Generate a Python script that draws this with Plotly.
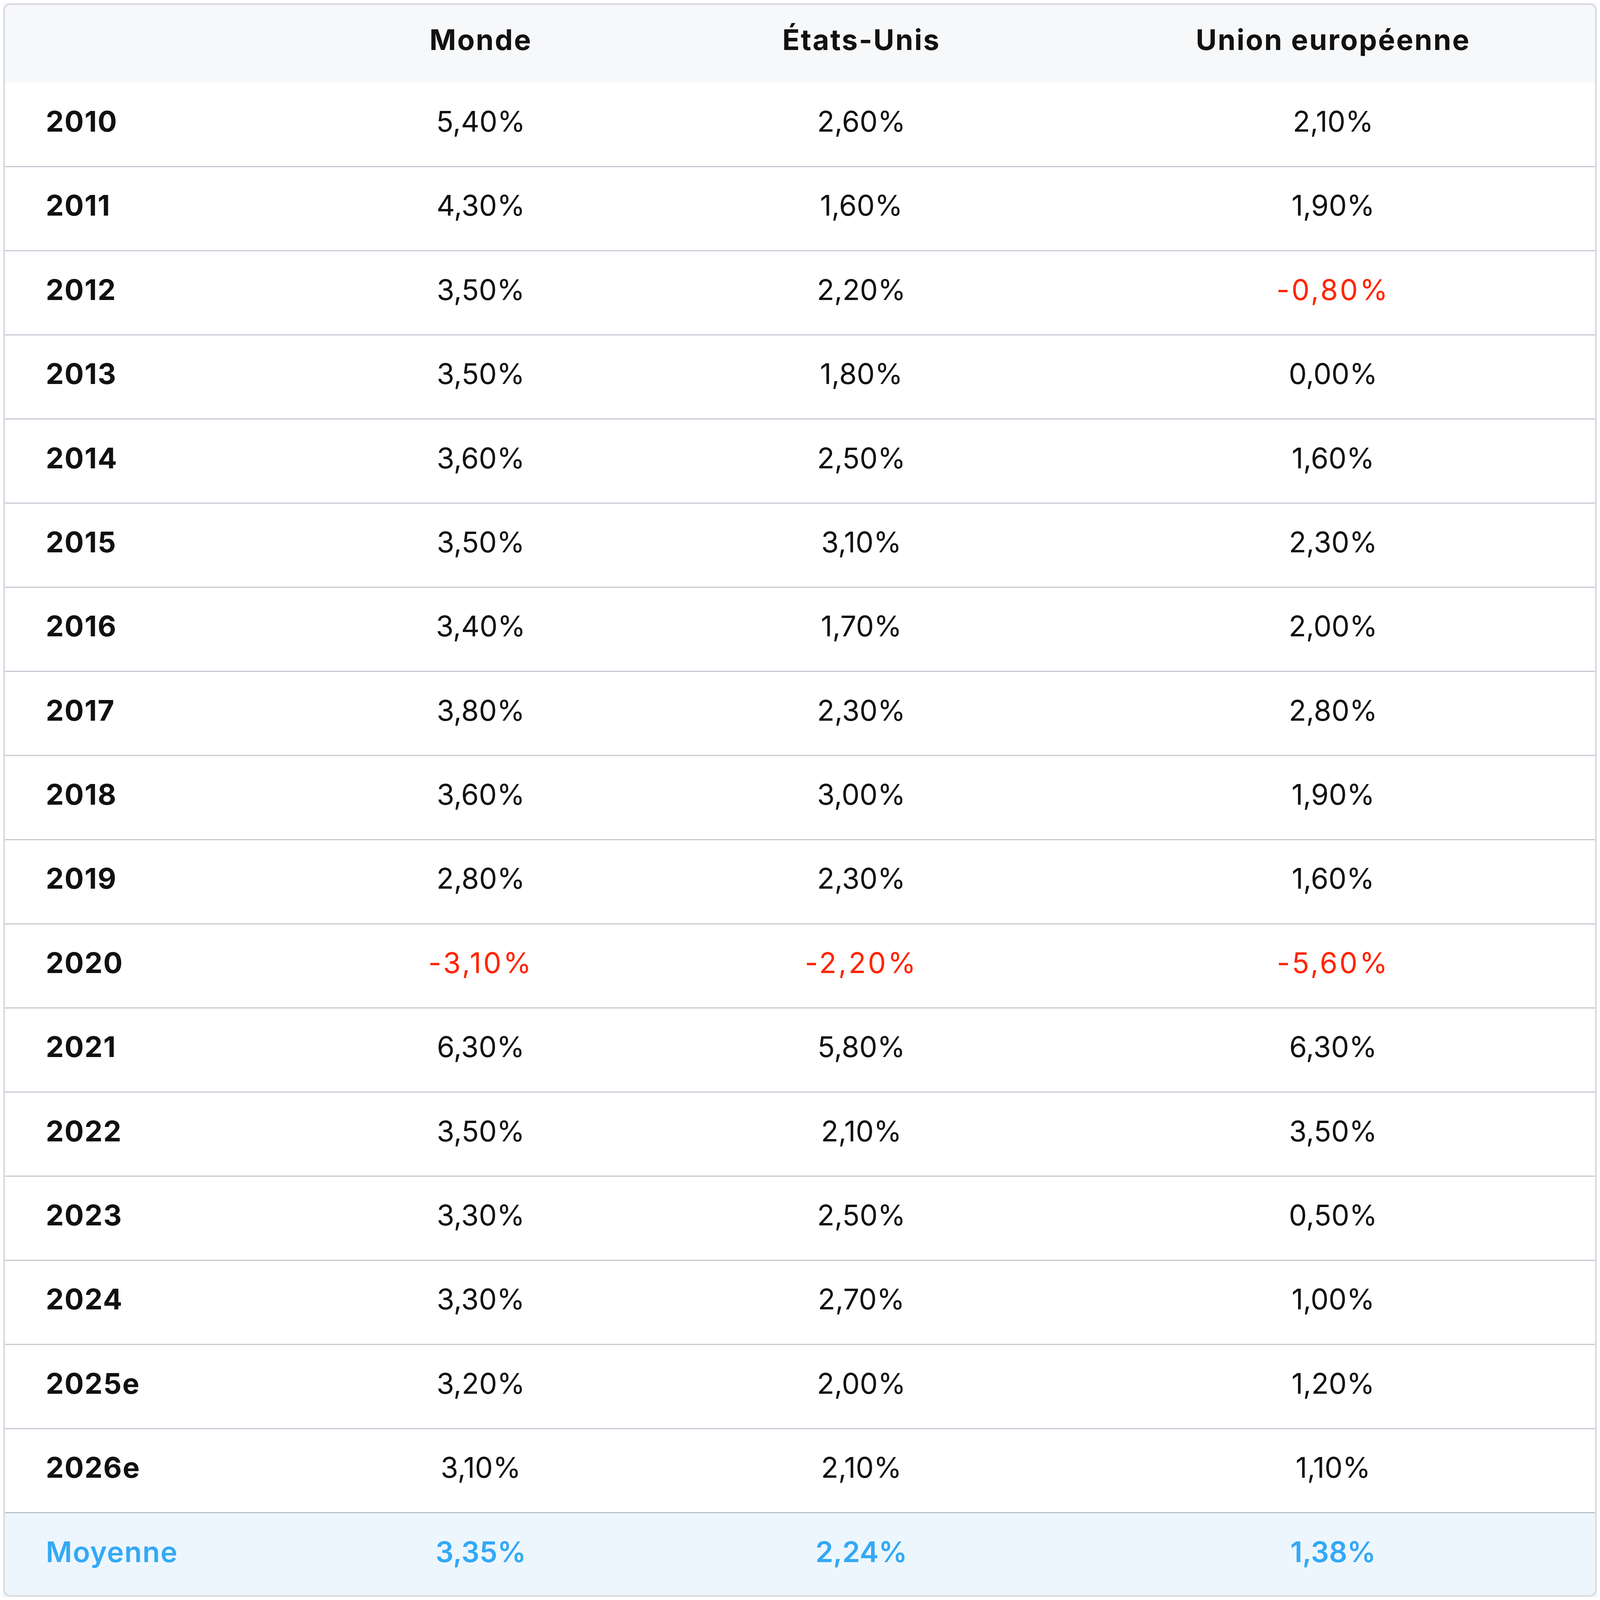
import plotly.graph_objects as go

# growth rates (in %)
years = ["2010", "2011", "2012", "2013", "2014", "2015", "2016", "2017", "2018",
         "2019", "2020", "2021", "2022", "2023", "2024", "2025e", "2026e"]
monde = [5.4, 4.3, 3.5, 3.5, 3.6, 3.5, 3.4, 3.8, 3.6, 2.8, -3.1, 6.3, 3.5, 3.3, 3.3, 3.2, 3.1]
etats_unis = [2.6, 1.6, 2.2, 1.8, 2.5, 3.1, 1.7, 2.3, 3.0, 2.3, -2.2, 5.8, 2.1, 2.5, 2.7, 2.0, 2.1]
union_eu = [2.1, 1.9, -0.8, 0.0, 1.6, 2.3, 2.0, 2.8, 1.9, 1.6, -5.6, 6.3, 3.5, 0.5, 1.0, 1.2, 1.1]
averages = [3.35, 2.24, 1.38]
columns = ["Monde", "États-Unis", "Union européenne"]
avg_label = "Moyenne"

FONT = "Inter"
FS = 73
BLACK = "#111111"
RED = "#FF2400"
BLUE = "#33A9F6"
LINE = "#C5C9D2"
BORDER = "#DCDEE4"

# layout of the grid, as fractions of the width
label_x = 0.0268
col_x = [0.2997, 0.5385, 0.8345]
header_h = 328 / 348   # header row height relative to a body row


def fmt(v):
    return f"{v:.2f}%".replace(".", ",")


def spaced(s, px):
    return f'<span style="letter-spacing:{px}px">{s}</span>'


def fmt_cell(v):
    # negative figures are drawn in red with a looser tracking
    return spaced(fmt(v), 5) if v < 0 else fmt(v)


series = [monde, etats_unis, union_eu]
n_body = len(years)
n_rows = n_body + 1
row_y = [i + 0.5 for i in range(n_rows)]
header_y = -header_h / 2

fig = go.Figure()

# header
fig.add_trace(go.Scatter(
    x=col_x, y=[header_y] * 3, text=[spaced(c, 3) for c in columns], mode="text",
    textfont=dict(family=FONT, size=FS, color=BLACK, weight=700),
    hoverinfo="skip", showlegend=False,
))

# year labels
fig.add_trace(go.Scatter(
    x=[label_x] * n_body, y=row_y[:n_body], text=[spaced(y, 2) for y in years], mode="text",
    textposition="middle right",
    textfont=dict(family=FONT, size=FS, color=BLACK, weight=700),
    hoverinfo="skip", showlegend=False,
))

# body values
for cx, s in zip(col_x, series):
    fig.add_trace(go.Scatter(
        x=[cx] * n_body, y=row_y[:n_body], text=[fmt_cell(v) for v in s], mode="text",
        textfont=dict(family=FONT, size=FS, color=[RED if v < 0 else BLACK for v in s], weight=400),
        hoverinfo="skip", showlegend=False,
    ))

# averages row
fig.add_trace(go.Scatter(
    x=[label_x], y=[row_y[-1]], text=[spaced(avg_label, 1.5)], mode="text",
    textposition="middle right",
    textfont=dict(family=FONT, size=FS, color=BLUE, weight=600),
    hoverinfo="skip", showlegend=False,
))
fig.add_trace(go.Scatter(
    x=col_x, y=[row_y[-1]] * 3, text=[fmt(a) for a in averages], mode="text",
    textfont=dict(family=FONT, size=FS, color=BLUE, weight=600),
    hoverinfo="skip", showlegend=False,
))

shapes = [
    dict(type="rect", xref="paper", yref="y", x0=0, x1=1, y0=-header_h, y1=0,
         fillcolor="#F7F8FA", line_width=0, layer="below"),
    dict(type="rect", xref="paper", yref="y", x0=0, x1=1, y0=n_body, y1=n_rows,
         fillcolor="#EEF6FD", line_width=0, layer="below"),
]
for i in range(1, n_rows):
    shapes.append(dict(type="line", xref="paper", yref="y", x0=0, x1=1, y0=i, y1=i,
                       line=dict(color="#B9BFCB" if i == n_body else LINE, width=3)))

# rounded outer frame
rx, ry, e = 0.0045, 0.0045, 0.0006
x0, x1, y0, y1 = e, 1 - e, e, 1 - e
frame = (f"M {x0 + rx},{y0} L {x1 - rx},{y0} Q {x1},{y0} {x1},{y0 + ry} "
         f"L {x1},{y1 - ry} Q {x1},{y1} {x1 - rx},{y1} "
         f"L {x0 + rx},{y1} Q {x0},{y1} {x0},{y1 - ry} "
         f"L {x0},{y0 + ry} Q {x0},{y0} {x0 + rx},{y0} Z")
shapes.append(dict(type="path", xref="paper", yref="paper", path=frame,
                   line=dict(color=BORDER, width=5)))

fig.update_layout(
    margin=dict(l=0, r=0, t=0, b=0),
    paper_bgcolor="white",
    plot_bgcolor="white",
    xaxis=dict(range=[0, 1], visible=False, fixedrange=True),
    yaxis=dict(range=[n_rows, -header_h], visible=False, fixedrange=True),
    shapes=shapes,
)

fig.write_html("out.html")
